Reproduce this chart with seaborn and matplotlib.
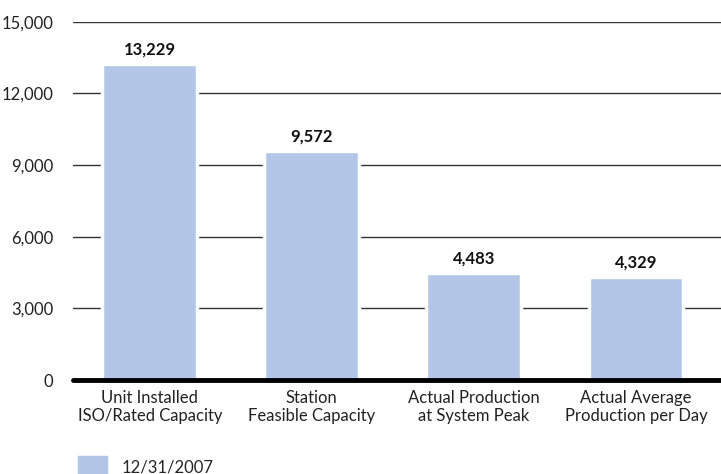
import matplotlib
matplotlib.use("Agg")
import matplotlib.pyplot as plt
import seaborn as sns
import pandas as pd

# chart data
categories = ["Unit Installed\nISO/Rated Capacity", "Station\nFeasible Capacity",
              "Actual Production\nat System Peak", "Actual Average\nProduction per Day"]
values = [13229, 9572, 4483, 4329]
series_name = "12/31/2007"
yticks = [0, 3000, 6000, 9000, 12000, 15000]

df = pd.DataFrame({"category": categories, "value": values, "series": series_name})

sns.set_style("white")
plt.rcParams["font.family"] = ["Lato", "DejaVu Sans"]

fig = plt.figure(figsize=(7.21, 4.74), dpi=100)
ax = fig.add_axes([0.101, 0.198, 0.899, 0.756])

bar_color = "#b3c6e7"
sns.barplot(data=df, x="category", y="value", hue="series", palette=[bar_color],
            saturation=1, width=0.585, edgecolor="white", linewidth=2.5, ax=ax, zorder=3)

ax.set_ylim(0, 15000)
ax.set_xlim(-0.475, 3.525)
ax.set_yticks(yticks)
ax.set_yticklabels([f"{v:,}" for v in yticks], fontsize=12, color="#222222")
ax.tick_params(axis="y", length=0, pad=14)
ax.tick_params(axis="x", length=0, pad=7, labelsize=12, labelcolor="#222222")
ax.set_xlabel("")
ax.set_ylabel("")

for y in yticks[1:]:
    ax.axhline(y, color="#333333", linewidth=1.0, zorder=1)
ax.axhline(0, color="black", linewidth=3.5, zorder=4, clip_on=False)

for s in ax.spines.values():
    s.set_visible(False)

for i, v in enumerate(values):
    ax.text(i, v + 280, f"{v:,}", ha="center", va="bottom", fontsize=12,
            fontweight="bold", color="#111111", zorder=5)

leg = ax.legend(loc="lower left", bbox_to_anchor=(0.0, -0.285), frameon=False,
                fontsize=12, handlelength=1.6, handleheight=1.3, handletextpad=0.9,
                borderaxespad=0)
for h in leg.legend_handles:
    h.set_edgecolor(bar_color)

fig.savefig("out.png", dpi=100)
